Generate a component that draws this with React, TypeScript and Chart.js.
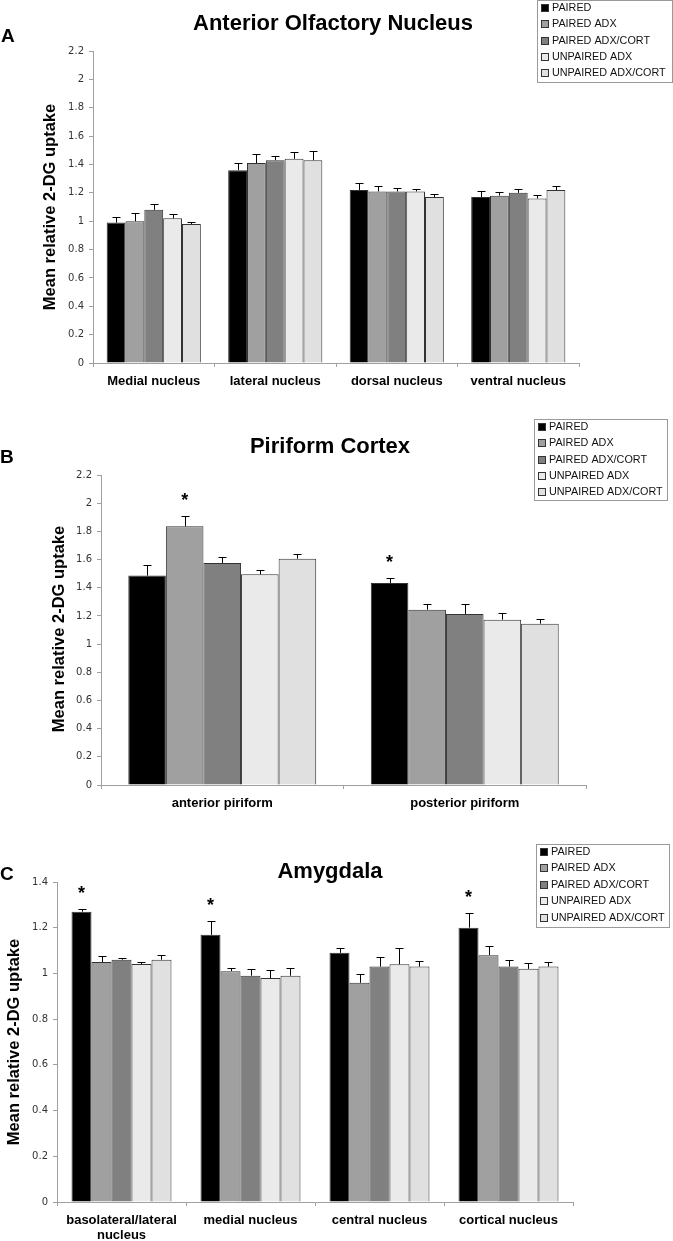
import React, { useEffect, useRef } from "react";
import { Chart, registerables } from "chart.js";
Chart.register(...registerables);

const seriesNames = ["PAIRED", "PAIRED ADX", "PAIRED ADX/CORT", "UNPAIRED ADX", "UNPAIRED ADX/CORT"];
const seriesColors = ["#000000", "#a0a0a0", "#808080", "#eaeaea", "#e0e0e0"];

// Panel A – Anterior Olfactory Nucleus
const categoriesA = ["Medial nucleus", "lateral nucleus", "dorsal nucleus", "ventral nucleus"];
const pairedA = [0.99, 1.36, 1.22, 1.17];
const pairedAdxA = [1.0, 1.41, 1.21, 1.18];
const pairedAdxCortA = [1.08, 1.43, 1.21, 1.2];
const unpairedAdxA = [1.02, 1.44, 1.21, 1.16];
const unpairedAdxCortA = [0.98, 1.43, 1.17, 1.22];
const errPairedA = [0.042, 0.05, 0.052, 0.04];
const errPairedAdxA = [0.06, 0.064, 0.04, 0.024];
const errPairedAdxCortA = [0.038, 0.028, 0.026, 0.026];
const errUnpairedAdxA = [0.028, 0.05, 0.018, 0.028];
const errUnpairedAdxCortA = [0.016, 0.063, 0.023, 0.028];
const yTicksA = [0, 0.2, 0.4, 0.6, 0.8, 1, 1.2, 1.4, 1.6, 1.8, 2, 2.2];

// Panel B – Piriform Cortex
const categoriesB = ["anterior piriform", "posterior piriform"];
const pairedB = [1.486, 1.434];
const pairedAdxB = [1.836, 1.244];
const pairedAdxCortB = [1.576, 1.214];
const unpairedAdxB = [1.495, 1.173];
const unpairedAdxCortB = [1.606, 1.145];
const errPairedB = [0.078, 0.038];
const errPairedAdxB = [0.071, 0.043];
const errPairedAdxCortB = [0.04, 0.068];
const errUnpairedAdxB = [0.033, 0.047];
const errUnpairedAdxCortB = [0.033, 0.035];
const yTicksB = [0, 0.2, 0.4, 0.6, 0.8, 1, 1.2, 1.4, 1.6, 1.8, 2, 2.2];
const starsB = [
  { cat: 0, series: 1 },
  { cat: 1, series: 0 },
];

// Panel C – Amygdala
const categoriesC = [["basolateral/lateral", "nucleus"], "medial nucleus", "central nucleus", "cortical nucleus"];
const pairedC = [1.27, 1.169, 1.09, 1.2];
const pairedAdxC = [1.05, 1.01, 0.959, 1.08];
const pairedAdxCortC = [1.06, 0.99, 1.03, 1.03];
const unpairedAdxC = [1.041, 0.98, 1.04, 1.02];
const unpairedAdxCortC = [1.06, 0.99, 1.03, 1.03];
const errPairedC = [0.01, 0.06, 0.02, 0.066];
const errPairedAdxC = [0.025, 0.012, 0.037, 0.04];
const errPairedAdxCortC = [0.009, 0.03, 0.04, 0.028];
const errUnpairedAdxC = [0.009, 0.035, 0.07, 0.027];
const errUnpairedAdxCortC = [0.02, 0.035, 0.025, 0.022];
const yTicksC = [0, 0.2, 0.4, 0.6, 0.8, 1, 1.2, 1.4];
const starsC = [
  { cat: 0, series: 0 },
  { cat: 1, series: 0 },
  { cat: 3, series: 0 },
];

const SANS = "'Liberation Sans', Arial, sans-serif";
const TICKFONT = "'DejaVu Sans', Verdana, sans-serif";

const decorPlugin = {
  id: "decor",
  afterDatasetsDraw(chart: any, _args: any, opts: any) {
    const ctx = chart.ctx;
    const ys = chart.scales.y;
    ctx.save();
    ctx.strokeStyle = "#000";
    ctx.lineWidth = 1;
    chart.data.datasets.forEach((ds: any, i: number) => {
      const meta = chart.getDatasetMeta(i);
      meta.data.forEach((el: any, j: number) => {
        const v = ds.data[j];
        const e = ds.errors[j];
        const top = Math.round(ys.getPixelForValue(v + e)) + 0.5;
        const x = Math.round(el.x) + 0.5;
        ctx.beginPath();
        ctx.moveTo(x, el.y);
        ctx.lineTo(x, top);
        ctx.moveTo(x - 4, top);
        ctx.lineTo(x + 4, top);
        ctx.stroke();
      });
    });
    // asterisks
    ctx.fillStyle = "#000";
    ctx.font = `bold 18px ${SANS}`;
    ctx.textAlign = "center";
    ctx.textBaseline = "alphabetic";
    (opts.stars || []).forEach((s: any) => {
      const ds = chart.data.datasets[s.series];
      const el = chart.getDatasetMeta(s.series).data[s.cat];
      const top = ys.getPixelForValue(ds.data[s.cat] + ds.errors[s.cat]);
      ctx.fillText("*", el.x, top - 10);
    });
    ctx.restore();
  },
  afterDraw(chart: any, _args: any, opts: any) {
    const ctx = chart.ctx;
    ctx.save();
    ctx.fillStyle = "#000";
    // title
    ctx.font = `bold 22px ${SANS}`;
    ctx.textAlign = "center";
    ctx.textBaseline = "alphabetic";
    ctx.fillText(opts.title, opts.titleX, opts.titleY);
    // panel letter
    ctx.font = `bold 19px ${SANS}`;
    ctx.textAlign = "left";
    ctx.fillText(opts.letter, opts.letterX, opts.letterY);
    // y title
    ctx.save();
    ctx.translate(opts.yTitleX, opts.yTitleY);
    ctx.rotate(-Math.PI / 2);
    ctx.font = `bold 16.5px ${SANS}`;
    ctx.textAlign = "center";
    ctx.textBaseline = "middle";
    ctx.fillText("Mean relative 2-DG uptake", 0, 0);
    ctx.restore();
    // legend
    const lg = opts.legend;
    ctx.fillStyle = "#fff";
    ctx.fillRect(lg.x, lg.y, lg.w, lg.h);
    ctx.strokeStyle = "#9a9a9a";
    ctx.lineWidth = 1;
    ctx.strokeRect(lg.x + 0.5, lg.y + 0.5, lg.w, lg.h);
    ctx.font = `10.8px ${SANS}`;
    ctx.textBaseline = "middle";
    ctx.textAlign = "left";
    chart.data.datasets.forEach((ds: any, i: number) => {
      const cy = Math.round(lg.y + 8 + i * lg.step);
      ctx.fillStyle = ds.backgroundColor;
      ctx.fillRect(lg.x + 4.5, cy - 3.5, 7, 7);
      ctx.strokeStyle = "#333";
      ctx.strokeRect(lg.x + 4.5, cy - 3.5, 7, 7);
      ctx.fillStyle = "#111";
      ctx.fillText(ds.label, lg.x + 15, cy + 0.5);
    });
    ctx.restore();
  },
};

type PanelCfg = {
  categories: any[];
  values: number[][];
  errors: number[][];
  ticks: number[];
  max: number;
  height: number;
  area: { left: number; right: number; top: number; bottom: number };
  decor: any;
};

function Panel({ cfg, top }: { cfg: PanelCfg; top: number }) {
  const ref = useRef<HTMLCanvasElement>(null);
  useEffect(() => {
    const canvas = ref.current!;
    const W = 673;
    const a = cfg.area;
    const chart = new Chart(canvas, {
      type: "bar",
      data: {
        labels: cfg.categories,
        datasets: seriesNames.map((name, i) => ({
          label: name,
          data: cfg.values[i],
          errors: cfg.errors[i],
          backgroundColor: seriesColors[i],
          borderColor: "#333",
          borderWidth: 1,
          categoryPercentage: 0.775,
          barPercentage: 1.0,
        })) as any,
      },
      options: {
        responsive: false,
        animation: false,
        devicePixelRatio: 1,
        layout: { padding: { top: a.top, right: W - a.right, left: 0, bottom: 0 } },
        plugins: {
          legend: { display: false },
          tooltip: { enabled: false },
          title: { display: false },
          decor: cfg.decor,
        } as any,
        scales: {
          x: {
            grid: { drawOnChartArea: false, drawTicks: true, tickLength: 4, color: "#a0a0a0", offset: true },
            border: { display: true, color: "#a0a0a0", width: 1 },
            ticks: {
              color: "#000",
              font: { family: SANS, size: 13, weight: "bold", lineHeight: 1.15 },
              padding: 6.5,
              maxRotation: 0,
              autoSkip: false,
            },
            afterFit: (s: any) => {
              s.height = cfg.height - a.bottom;
            },
          },
          y: {
            min: 0,
            max: cfg.max,
            afterBuildTicks: (s: any) => {
              s.ticks = cfg.ticks.map((v) => ({ value: v }));
            },
            grid: { drawOnChartArea: false, drawTicks: true, tickLength: 4, color: "#a0a0a0" },
            border: { display: true, color: "#a0a0a0", width: 1 },
            ticks: {
              color: "#333",
              font: { family: TICKFONT, size: 10 },
              padding: 5,
              callback: (v: any) => String(Number(Number(v).toFixed(1))),
            },
            afterFit: (s: any) => {
              s.width = a.left;
            },
          },
        },
      },
      plugins: [decorPlugin],
    });
    return () => chart.destroy();
  }, [cfg]);
  return (
    <canvas
      ref={ref}
      width={673}
      height={cfg.height}
      style={{ position: "absolute", left: 0, top, width: 673, height: cfg.height }}
    />
  );
}

const panelA: PanelCfg = {
  categories: categoriesA,
  values: [pairedA, pairedAdxA, pairedAdxCortA, unpairedAdxA, unpairedAdxCortA],
  errors: [errPairedA, errPairedAdxA, errPairedAdxCortA, errUnpairedAdxA, errUnpairedAdxCortA],
  ticks: yTicksA,
  max: 2.2,
  height: 405,
  area: { left: 93, right: 579, top: 51, bottom: 363 },
  decor: {
    title: "Anterior Olfactory Nucleus",
    titleX: 333,
    titleY: 29.5,
    letter: "A",
    letterX: 1,
    letterY: 42,
    yTitleX: 50.5,
    yTitleY: 207,
    legend: { x: 537, y: 0, w: 135, h: 82, step: 16.3 },
    stars: [],
  },
};

const panelB: PanelCfg = {
  categories: categoriesB,
  values: [pairedB, pairedAdxB, pairedAdxCortB, unpairedAdxB, unpairedAdxCortB],
  errors: [errPairedB, errPairedAdxB, errPairedAdxCortB, errUnpairedAdxB, errUnpairedAdxCortB],
  ticks: yTicksB,
  max: 2.2,
  height: 420,
  area: { left: 101, right: 586, top: 70, bottom: 380 },
  decor: {
    title: "Piriform Cortex",
    titleX: 330,
    titleY: 47.7,
    letter: "B",
    letterX: 0,
    letterY: 58,
    yTitleX: 59,
    yTitleY: 224,
    legend: { x: 534, y: 14, w: 133, h: 81, step: 16.3 },
    stars: starsB,
  },
};

const panelC: PanelCfg = {
  categories: categoriesC,
  values: [pairedC, pairedAdxC, pairedAdxCortC, unpairedAdxC, unpairedAdxCortC],
  errors: [errPairedC, errPairedAdxC, errPairedAdxCortC, errUnpairedAdxC, errUnpairedAdxCortC],
  ticks: yTicksC,
  max: 1.4,
  height: 416,
  area: { left: 57, right: 573, top: 57, bottom: 377 },
  decor: {
    title: "Amygdala",
    titleX: 330,
    titleY: 53.3,
    letter: "C",
    letterX: 0,
    letterY: 55,
    yTitleX: 14,
    yTitleY: 217,
    legend: { x: 536, y: 19, w: 133, h: 83, step: 16.4 },
    stars: starsC,
  },
};

export default function App() {
  return (
    <div style={{ position: "absolute", left: 0, top: 0, width: 673, height: 1241, background: "#fff", overflow: "hidden" }}>
      <Panel cfg={panelA} top={0} />
      <Panel cfg={panelB} top={405} />
      <Panel cfg={panelC} top={825} />
    </div>
  );
}
